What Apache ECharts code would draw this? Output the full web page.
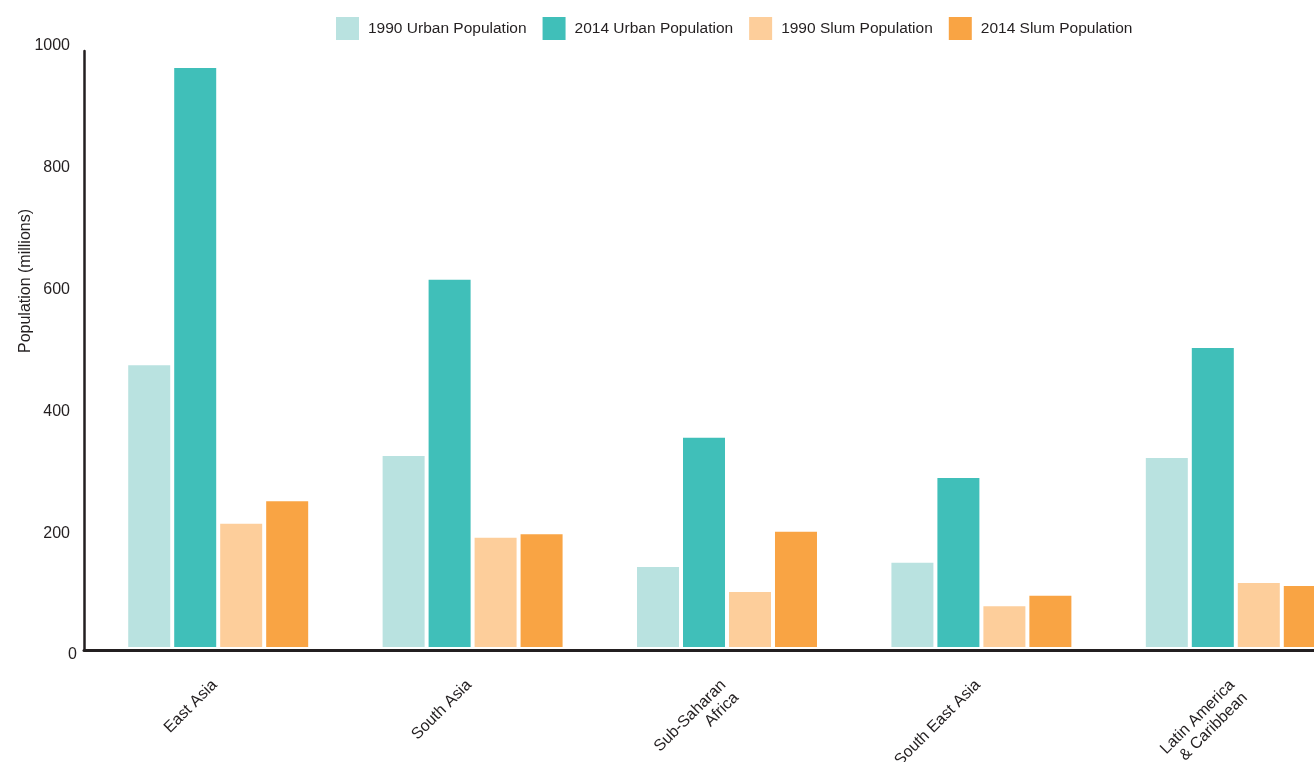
<!DOCTYPE html>
<html>
<head>
<meta charset="utf-8">
<script src="https://cdn.jsdelivr.net/npm/echarts@6/dist/echarts.min.js"></script>
<style>
html,body{margin:0;padding:0;background:#fff;}
#chart{width:1314px;height:762px;}
</style>
</head>
<body>
<div id="chart"></div>
<script>
const categories = ['East Asia', 'South Asia', 'Sub-Saharan\nAfrica', 'South East Asia', 'Latin America\n& Caribbean'];
const seriesNames = ['1990 Urban Population', '2014 Urban Population', '1990 Slum Population', '2014 Slum Population'];
const urban1990 = [462, 313, 131, 138, 310];
const urban2014 = [949, 602, 343, 277, 490];
const slum1990 = [202, 179, 90, 67, 105];
const slum2014 = [239, 185, 189, 84, 100];
const yMin = 0, yMax = 1000, yStep = 200;

const colors = ['#b9e2e0', '#40bfb9', '#fdce9b', '#f9a444'];
const FONT = '"Liberation Sans", Arial, Helvetica, sans-serif';
const TXT = '#231f20';

const chart = echarts.init(document.getElementById('chart'), null, {renderer: 'canvas'});
const values = [urban1990, urban2014, slum1990, slum2014];

chart.setOption({
  animation: false,
  backgroundColor: '#ffffff',
  color: colors,
  textStyle: {fontFamily: FONT, color: TXT},
  legend: {
    left: 336, top: 17, padding: 0,
    itemWidth: 23, itemHeight: 23, itemGap: 16,
    icon: 'rect',
    textStyle: {fontFamily: FONT, fontSize: 15.5, color: TXT, padding: [0, 0, 0, 4]},
    data: seriesNames
  },
  grid: [
    {left: 91, width: 1272, top: 37, height: 610, containLabel: false, outerBoundsMode: 'none'},
    {left: 84, right: 0, top: 51, bottom: 112, containLabel: false, outerBoundsMode: 'none'}
  ],
  xAxis: [
    {
      type: 'category', gridIndex: 0, data: categories,
      axisLine: {show: false}, axisTick: {show: false},
      axisLabel: {interval: 0, rotate: 45, margin: 32, fontSize: 16, fontFamily: FONT, color: TXT,
                  lineHeight: 18, padding: [0, 5, 0, 0],
                  formatter: v => v.indexOf('\n') >= 0 ? '\n' + v : v}
    },
    {
      type: 'value', gridIndex: 1, min: 0, max: 1,
      axisLine: {show: true, onZero: false, lineStyle: {color: TXT, width: 3}},
      axisTick: {show: false}, axisLabel: {show: false}, splitLine: {show: false}
    }
  ],
  yAxis: [
    {
      type: 'value', gridIndex: 0, min: yMin, max: yMax, interval: yStep,
      name: 'Population (millions)', nameLocation: 'middle', nameGap: 57, nameMoveOverlap: false,
      nameTextStyle: {fontFamily: FONT, fontSize: 16, color: TXT, padding: [0, 0, 0, 122]},
      axisLine: {show: false}, axisTick: {show: false}, splitLine: {show: false},
      axisLabel: {
        margin: 14, fontSize: 16, fontFamily: FONT, color: TXT,
        formatter: v => v === 0 ? '{z|0}' : '{a|' + v + '}',
        rich: {
          a: {fontSize: 16, fontFamily: FONT, color: TXT, padding: [18, 7, 0, 0]},
          z: {fontSize: 16, fontFamily: FONT, color: TXT, padding: [16, 0, 0, 0]}
        }
      }
    },
    {
      type: 'value', gridIndex: 1, min: 0, max: 1,
      axisLine: {show: true, onZero: false, lineStyle: {color: TXT, width: 2.5}},
      axisTick: {show: false}, axisLabel: {show: false}, splitLine: {show: false}
    }
  ],
  series: seriesNames.map((name, i) => ({
    name: name, type: 'bar', xAxisIndex: 0, yAxisIndex: 0,
    barWidth: 42, barGap: '9.5%',
    itemStyle: {color: colors[i]},
    data: values[i]
  }))
});
</script>
</body>
</html>
